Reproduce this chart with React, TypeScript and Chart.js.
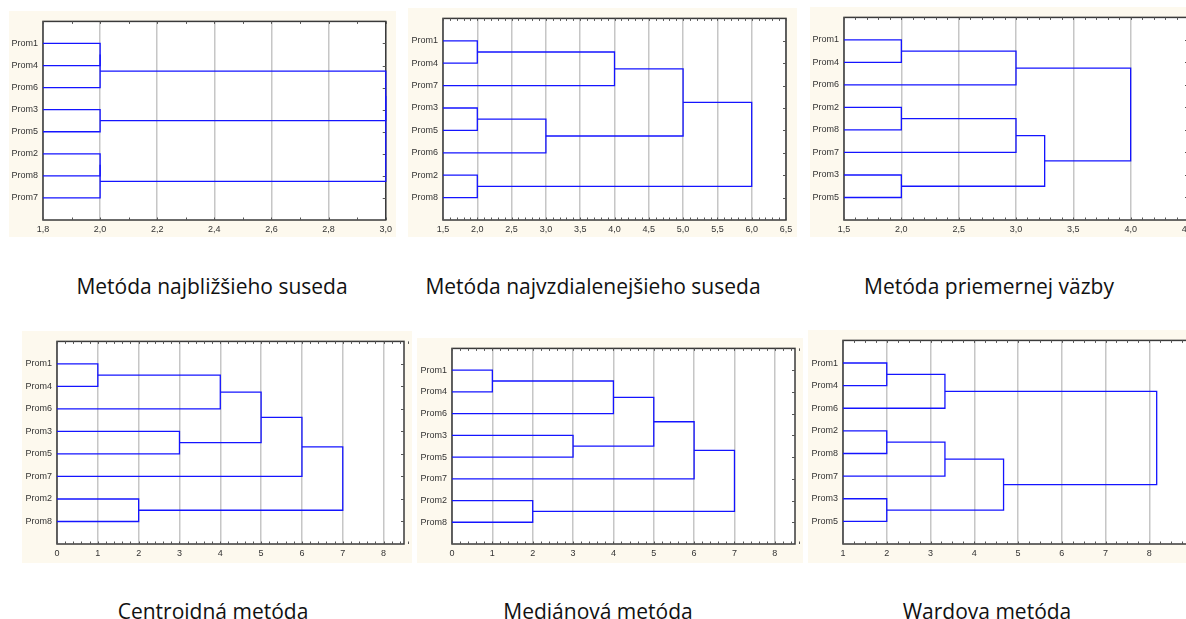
import React, { useEffect, useRef } from "react";
import { Chart, registerables } from "chart.js";

Chart.register(...registerables);

// ---------- DATA ----------
// leaf order (top to bottom) and merges [childA, childB, distance]; leaves are 0..7, merge k creates node 8+k
const leavesSingle = ["Prom1", "Prom4", "Prom6", "Prom3", "Prom5", "Prom2", "Prom8", "Prom7"];
const mergesSingle = [[0, 1, 2.0], [8, 2, 2.0], [3, 4, 2.0], [5, 6, 2.0], [11, 7, 2.0], [9, 10, 3.0], [13, 12, 3.0]];
const ticksSingle = [1.8, 2.0, 2.2, 2.4, 2.6, 2.8, 3.0];

const leavesComplete = ["Prom1", "Prom4", "Prom7", "Prom3", "Prom5", "Prom6", "Prom2", "Prom8"];
const mergesComplete = [[0, 1, 2.0], [8, 2, 4.0], [3, 4, 2.0], [10, 5, 3.0], [9, 11, 5.0], [6, 7, 2.0], [12, 13, 6.0]];
const ticksComplete = [1.5, 2.0, 2.5, 3.0, 3.5, 4.0, 4.5, 5.0, 5.5, 6.0, 6.5];

const leavesAverage = ["Prom1", "Prom4", "Prom6", "Prom2", "Prom8", "Prom7", "Prom3", "Prom5"];
const mergesAverage = [[0, 1, 2.0], [8, 2, 3.0], [3, 4, 2.0], [10, 5, 3.0], [6, 7, 2.0], [11, 12, 3.25], [9, 13, 4.0]];
const ticksAverage = [1.5, 2.0, 2.5, 3.0, 3.5, 4.0, 4.5];

const leavesCentroid = ["Prom1", "Prom4", "Prom6", "Prom3", "Prom5", "Prom7", "Prom2", "Prom8"];
const mergesCentroid = [[0, 1, 1], [8, 2, 4], [3, 4, 3], [9, 10, 5], [11, 5, 6], [6, 7, 2], [12, 13, 7]];
const ticksCentroid = [0, 1, 2, 3, 4, 5, 6, 7, 8];

const leavesMedian = ["Prom1", "Prom4", "Prom6", "Prom3", "Prom5", "Prom7", "Prom2", "Prom8"];
const mergesMedian = [[0, 1, 1], [8, 2, 4], [3, 4, 3], [9, 10, 5], [11, 5, 6], [6, 7, 2], [12, 13, 7]];
const ticksMedian = [0, 1, 2, 3, 4, 5, 6, 7, 8];

const leavesWard = ["Prom1", "Prom4", "Prom6", "Prom2", "Prom8", "Prom7", "Prom3", "Prom5"];
const mergesWard = [[0, 1, 2], [8, 2, 3.33], [3, 4, 2], [10, 5, 3.33], [6, 7, 2], [11, 12, 4.67], [9, 13, 8.17]];
const ticksWard = [1, 2, 3, 4, 5, 6, 7, 8, 9];

const captions = [
  "Metóda najbližšieho suseda",
  "Metóda najvzdialenejšieho suseda",
  "Metóda priemernej väzby",
  "Centroidná metóda",
  "Mediánová metóda",
  "Wardova metóda",
];

// ---------- LAYOUT / STYLE ----------
const panels = [
  { leaves: leavesSingle, merges: mergesSingle, ticks: ticksSingle, min: 1.8, max: 3.0, dec: 1, minor: 0.1,
    cream: { x: 9, y: 11, w: 387, h: 226 }, plot: { l: 43, t: 15, r: 386, b: 220 }, cap: { cx: 212, cy: 286 } },
  { leaves: leavesComplete, merges: mergesComplete, ticks: ticksComplete, min: 1.5, max: 6.5, dec: 1, minor: 0.1,
    cream: { x: 408, y: 8, w: 389, h: 229 }, plot: { l: 443, t: 14, r: 786, b: 220 }, cap: { cx: 593, cy: 286 } },
  { leaves: leavesAverage, merges: mergesAverage, ticks: ticksAverage, min: 1.5, max: 4.5, dec: 1, minor: 0.1,
    cream: { x: 810, y: 7, w: 392, h: 230 }, plot: { l: 844, t: 15, r: 1188, b: 220 }, cap: { cx: 989, cy: 286 } },
  { leaves: leavesCentroid, merges: mergesCentroid, ticks: ticksCentroid, min: 0, max: 8.5, dec: 0, minor: 0.2,
    cream: { x: 22, y: 331, w: 390, h: 232 }, plot: { l: 57, t: 339, r: 404, b: 544 }, cap: { cx: 213, cy: 611 } },
  { leaves: leavesMedian, merges: mergesMedian, ticks: ticksMedian, min: 0, max: 8.5, dec: 0, minor: 0.2,
    cream: { x: 417, y: 338, w: 386, h: 225 }, plot: { l: 452, t: 342, r: 795, b: 544 }, cap: { cx: 598, cy: 611 } },
  { leaves: leavesWard, merges: mergesWard, ticks: ticksWard, min: 1, max: 9, dec: 0, minor: 0.25,
    cream: { x: 808, y: 330, w: 397, h: 233 }, plot: { l: 843, t: 337, r: 1193, b: 544 }, cap: { cx: 987, cy: 611 } },
];

const Y_AXIS_W = 34;
const X_AXIS_H = 16;
const LINE_COLOR = "#1414ff";
const CREAM = "#fdf9ee";

function buildSegments(leaves: string[], merges: number[][], xMin: number) {
  const nodes = leaves.map((_, i) => ({ x: xMin, y: i + 1 }));
  const segs: { x: number; y: number }[][] = [];
  merges.forEach(([a, b, h]) => {
    const A = nodes[a];
    const B = nodes[b];
    segs.push([
      { x: A.x, y: A.y },
      { x: h, y: A.y },
      { x: h, y: B.y },
      { x: B.x, y: B.y },
    ]);
    nodes.push({ x: h, y: (A.y + B.y) / 2 });
  });
  return segs;
}

const framePlugin = {
  id: "frame",
  beforeDraw(chart: any) {
    const { ctx, chartArea } = chart;
    const { left, top, right, bottom } = chartArea;
    ctx.save();
    ctx.fillStyle = "#ffffff";
    ctx.fillRect(left, top, right - left, bottom - top);
    ctx.restore();
  },
  beforeDatasetsDraw(chart: any, _args: any, opts: any) {
    const { ctx, chartArea, scales } = chart;
    const { left, top, right, bottom } = chartArea;
    const x = scales.x;
    const y = scales.y;
    ctx.save();
    ctx.strokeStyle = "#3a3a3a";
    ctx.lineWidth = 1.5;
    ctx.strokeRect(left, top, right - left, bottom - top);
    ctx.lineWidth = 1;
    ctx.strokeStyle = "#555";
    ctx.beginPath();
    const step = opts.minor || 0.1;
    const n = Math.round((x.max - x.min) / step);
    for (let i = 0; i <= n; i++) {
      const px = Math.round(x.getPixelForValue(x.min + i * step)) + 0.5;
      ctx.moveTo(px, top);
      ctx.lineTo(px, top + 2.5);
      ctx.moveTo(px, bottom);
      ctx.lineTo(px, bottom - 2.5);
    }
    for (let r = 1; r <= 8; r++) {
      const py = Math.round(y.getPixelForValue(r)) + 0.5;
      ctx.moveTo(right - 3, py);
      ctx.lineTo(right, py);
    }
    ctx.stroke();
    ctx.restore();
  },
};

function Panel({ p }: { p: any }) {
  const ref = useRef<HTMLCanvasElement>(null);
  useEffect(() => {
    const segs = buildSegments(p.leaves, p.merges, p.min);
    const padding = {
      left: p.plot.l - p.cream.x - Y_AXIS_W,
      top: p.plot.t - p.cream.y,
      right: p.cream.x + p.cream.w - p.plot.r,
      bottom: p.cream.y + p.cream.h - p.plot.b - X_AXIS_H,
    };
    const chart = new Chart(ref.current as HTMLCanvasElement, {
      type: "scatter",
      data: {
        datasets: segs.map((d) => ({
          data: d,
          showLine: true,
          borderColor: LINE_COLOR,
          borderWidth: 1.3,
          pointRadius: 0,
          fill: false,
          tension: 0,
          clip: 3,
        })),
      },
      options: {
        animation: false,
        responsive: false,
        devicePixelRatio: 1,
        layout: { padding },
        plugins: {
          legend: { display: false },
          tooltip: { enabled: false },
          frame: { minor: p.minor },
        } as any,
        scales: {
          x: {
            type: "linear",
            min: p.min,
            max: p.max,
            afterBuildTicks: (s: any) => {
              s.ticks = p.ticks.map((v: number) => ({ value: v }));
            },
            afterFit: (s: any) => {
              s.height = X_AXIS_H;
            },
            ticks: {
              padding: 4,
              maxRotation: 0,
              autoSkip: false,
              color: "#333",
              font: { family: "Liberation Sans, Arial, sans-serif", size: 9 },
              callback: (v: any) => Number(v).toFixed(p.dec).replace(".", ","),
            },
            grid: { color: "#c6c6c6", lineWidth: 1.5, drawTicks: false },
            border: { display: false },
          },
          y: {
            type: "linear",
            min: 0,
            max: 9,
            reverse: true,
            afterBuildTicks: (s: any) => {
              s.ticks = p.leaves.map((_: string, i: number) => ({ value: i + 1 }));
            },
            afterFit: (s: any) => {
              s.width = Y_AXIS_W;
            },
            ticks: {
              padding: 5,
              autoSkip: false,
              color: "#333",
              font: { family: "Liberation Sans, Arial, sans-serif", size: 9 },
              callback: (v: any) => p.leaves[Math.round(Number(v)) - 1] ?? "",
            },
            grid: { display: false, drawTicks: false },
            border: { display: false },
          },
        },
      },
      plugins: [framePlugin],
    });
    return () => chart.destroy();
  }, [p]);
  return (
    <div
      style={{
        position: "absolute",
        left: p.cream.x,
        top: p.cream.y,
        width: p.cream.w,
        height: p.cream.h,
        background: CREAM,
      }}
    >
      <canvas ref={ref} width={p.cream.w} height={p.cream.h} style={{ display: "block" }} />
    </div>
  );
}

export default function App() {
  return (
    <div
      style={{
        position: "absolute",
        left: 0,
        top: 0,
        width: 1186,
        height: 619,
        overflow: "hidden",
        background: "#fff",
      }}
    >
      {panels.map((p, i) => (
        <Panel key={i} p={p} />
      ))}
      {panels.map((p, i) => (
        <div
          key={"c" + i}
          style={{
            position: "absolute",
            left: p.cap.cx - 250,
            width: 500,
            top: p.cap.cy - 15,
            height: 30,
            lineHeight: "30px",
            textAlign: "center",
            fontFamily: "'Open Sans', sans-serif",
            fontSize: 21,
            color: "#111",
          }}
        >
          {captions[i]}
        </div>
      ))}
    </div>
  );
}
